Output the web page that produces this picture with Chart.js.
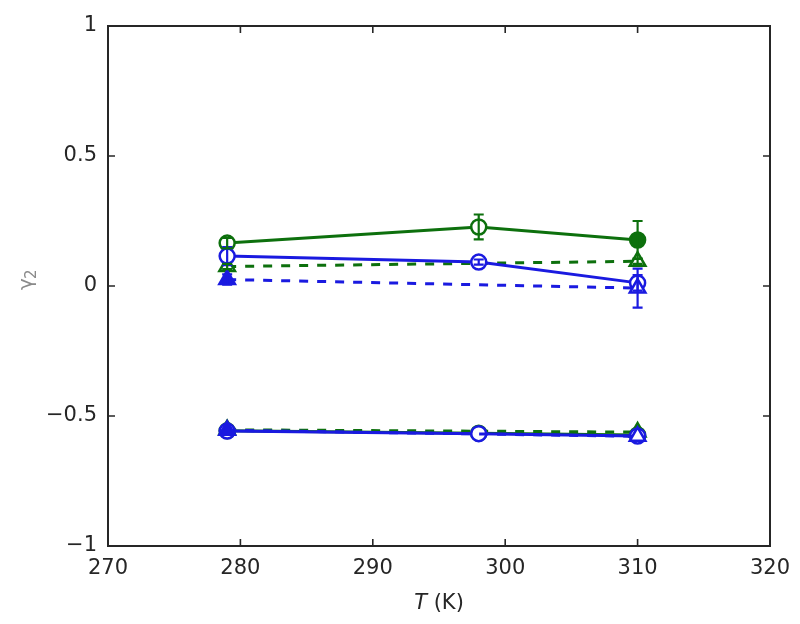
<!DOCTYPE html>
<html>
<head>
<meta charset="utf-8">
<script src="https://cdn.jsdelivr.net/npm/chart.js@4/dist/chart.umd.min.js"></script>
<style>
  html, body { margin: 0; padding: 0; background: #fff; }
  #wrap { width: 800px; height: 624px; }
</style>
</head>
<body>
<div id="wrap"><canvas id="chart" width="800" height="624"></canvas></div>
<script>
// temperatures (K)
const temps = [279, 298, 310];
const tempsDashed = [279, 310];

// gamma_2, upper group
const greenCircUp = [0.165, 0.227, 0.177];
const greenCircUpErr = [0.02, 0.048, 0.073];
const blueCircUp = [0.115, 0.092, 0.012];
const blueCircUpErr = [0.035, 0.01, 0.03];
const greenTriUp = [0.075, 0.095];
const greenTriUpErr = [0.01, 0.01];
const blueTriUp = [0.025, -0.008];
const blueTriUpErr = [0.02, 0.075];

// gamma_2, lower group
const greenCircLow = [-0.557, -0.566, -0.573];
const blueCircLow = [-0.558, -0.568, -0.577];
const greenTriLow = [-0.553, -0.562];
const blueTriLow = [-0.555, -0.578];

const xTicks = [270, 280, 290, 300, 310, 320];
const yTicks = [-1, -0.5, 0, 0.5, 1];

const GREEN = '#0d700d';
const BLUE = '#1a1ae0';
const WHITE = '#ffffff';

const pts = (xs, ys) => xs.map((x, i) => ({ x, y: ys[i] }));

function series(xs, ys, color, style, dashed, fills, err) {
  const r = style === 'triangle' ? 9 : 7.5;
  return {
    data: pts(xs, ys),
    showLine: true,
    borderColor: color,
    borderWidth: 3,
    borderDash: dashed ? [9, 9] : [],
    pointStyle: style,
    pointRadius: r,
    pointHoverRadius: r,
    pointBorderWidth: 2.5,
    pointBorderColor: color,
    pointBackgroundColor: fills,
    errors: err || null,
    tension: 0
  };
}

const datasets = [
  series(tempsDashed, blueTriLow, BLUE, 'triangle', true, [BLUE, WHITE]),
  series(temps, blueCircLow, BLUE, 'circle', false, [WHITE, WHITE, WHITE]),
  series(temps, greenCircLow, GREEN, 'circle', false, [WHITE, WHITE, GREEN]),
  series(tempsDashed, greenTriLow, GREEN, 'triangle', true, [WHITE, GREEN]),
  series(tempsDashed, blueTriUp, BLUE, 'triangle', true, [BLUE, WHITE], blueTriUpErr),
  series(temps, blueCircUp, BLUE, 'circle', false, [WHITE, WHITE, WHITE], blueCircUpErr),
  series(tempsDashed, greenTriUp, GREEN, 'triangle', true, [WHITE, WHITE], greenTriUpErr),
  series(temps, greenCircUp, GREEN, 'circle', false, [WHITE, WHITE, GREEN], greenCircUpErr)
];

// error bars, box and inward ticks (MATLAB look)
const decorations = {
  id: 'decorations',
  afterDatasetsDraw(chart) {
    const ctx = chart.ctx;
    const xs = chart.scales.x, ys = chart.scales.y;
    chart.data.datasets.forEach(ds => {
      if (!ds.errors) return;
      ctx.save();
      ctx.strokeStyle = ds.borderColor;
      ctx.lineWidth = 2.2;
      ds.data.forEach((p, i) => {
        const e = ds.errors[i];
        const px = xs.getPixelForValue(p.x);
        const top = ys.getPixelForValue(p.y + e);
        const bot = ys.getPixelForValue(p.y - e);
        ctx.beginPath();
        ctx.moveTo(px, top); ctx.lineTo(px, bot);
        ctx.moveTo(px - 5, top); ctx.lineTo(px + 5, top);
        ctx.moveTo(px - 5, bot); ctx.lineTo(px + 5, bot);
        ctx.stroke();
      });
      ctx.restore();
    });

    const a = chart.chartArea;
    ctx.save();
    ctx.strokeStyle = '#262626';
    ctx.lineWidth = 2;
    ctx.strokeRect(a.left, a.top, a.right - a.left, a.bottom - a.top);
    ctx.lineWidth = 1.6;
    ctx.beginPath();
    xTicks.slice(1, -1).forEach(v => {
      const px = xs.getPixelForValue(v);
      ctx.moveTo(px, a.bottom); ctx.lineTo(px, a.bottom - 7);
      ctx.moveTo(px, a.top); ctx.lineTo(px, a.top + 7);
    });
    yTicks.slice(1, -1).forEach(v => {
      const py = ys.getPixelForValue(v);
      ctx.moveTo(a.left, py); ctx.lineTo(a.left + 7, py);
      ctx.moveTo(a.right, py); ctx.lineTo(a.right - 7, py);
    });
    ctx.stroke();

    // axis titles
    ctx.fillStyle = '#262626';
    ctx.textBaseline = 'middle';
    const cx = (a.left + a.right) / 2;
    ctx.font = 'italic 21px "DejaVu Sans"';
    const wT = ctx.measureText('T').width;
    ctx.font = '21px "DejaVu Sans"';
    const wK = ctx.measureText(' (K)').width;
    const sx = cx - (wT + wK) / 2;
    ctx.font = 'italic 21px "DejaVu Sans"';
    ctx.textAlign = 'left';
    ctx.fillText('T', sx, 604);
    ctx.font = '21px "DejaVu Sans"';
    ctx.fillText(' (K)', sx + wT, 604);

    ctx.translate(32, 280);
    ctx.rotate(-Math.PI / 2);
    ctx.fillStyle = '#8a8a8a';
    ctx.textBaseline = 'alphabetic';
    ctx.font = '20px "DejaVu Sans"';
    ctx.fillText('\u03b3', -10, 0);
    ctx.font = '15px "DejaVu Sans"';
    ctx.fillText('2', 1, 4);
    ctx.restore();
  }
};

new Chart(document.getElementById('chart'), {
  type: 'scatter',
  data: { datasets },
  options: {
    responsive: false,
    animation: false,
    layout: { padding: { top: 26, right: 30, bottom: 0, left: 0 } },
    plugins: { legend: { display: false }, tooltip: { enabled: false } },
    scales: {
      x: {
        min: 270, max: 320,
        afterBuildTicks: s => { s.ticks = xTicks.map(v => ({ value: v })); },
        afterFit: s => { s.height = 78; },
        grid: { display: false },
        border: { display: false },
        ticks: { color: '#262626', font: { size: 21, family: 'DejaVu Sans' }, padding: 2, maxRotation: 0 }
      },
      y: {
        min: -1, max: 1,
        afterBuildTicks: s => { s.ticks = yTicks.map(v => ({ value: v })); },
        afterFit: s => { s.width = 108; },
        grid: { display: false },
        border: { display: false },
        ticks: {
          color: '#262626', font: { size: 21, family: 'DejaVu Sans' }, padding: 3,
          callback: v => String(v).replace('-', '\u2212')
        }
      }
    }
  },
  plugins: [decorations]
});
</script>
</body>
</html>
